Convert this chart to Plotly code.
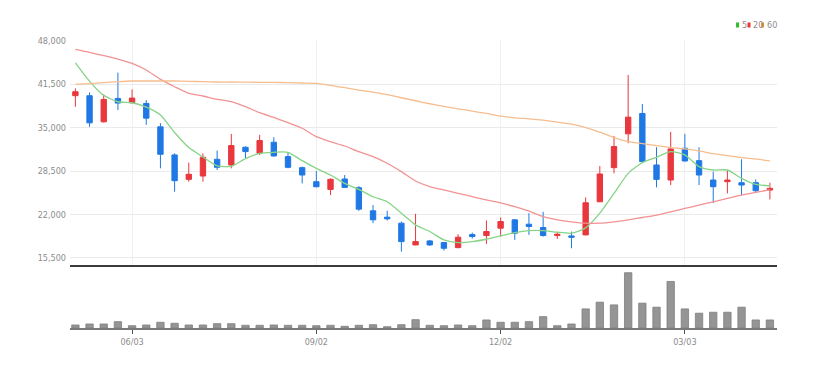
import plotly.graph_objects as go

dates = [
    "2024-05-06", "2024-05-13", "2024-05-20", "2024-05-27", "2024-06-03", "2024-06-10",
    "2024-06-17", "2024-06-24", "2024-07-01", "2024-07-08", "2024-07-15", "2024-07-22",
    "2024-07-29", "2024-08-05", "2024-08-12", "2024-08-19", "2024-08-26", "2024-09-02",
    "2024-09-09", "2024-09-16", "2024-09-23", "2024-09-30", "2024-10-07", "2024-10-14",
    "2024-10-21", "2024-10-28", "2024-11-04", "2024-11-11", "2024-11-18", "2024-11-25",
    "2024-12-02", "2024-12-09", "2024-12-16", "2024-12-23", "2024-12-30", "2025-01-06",
    "2025-01-13", "2025-01-20", "2025-01-27", "2025-02-03", "2025-02-10", "2025-02-17",
    "2025-02-24", "2025-03-03", "2025-03-10", "2025-03-17", "2025-03-24", "2025-03-31",
    "2025-04-07", "2025-04-14",
]

open_ = [39750, 39750, 35850, 39350, 38700, 38600, 35100, 30900, 27250, 27750,
         30250, 29400, 32050, 31150, 32800, 30650, 29000, 26900, 25750, 27300,
         26000, 22550, 21600, 20700, 17450, 18050, 17800, 17050, 19000, 18850,
         19950, 21200, 20550, 20050, 18850, 18800, 18950, 23900, 29000, 34050,
         37100, 29400, 27150, 31900, 30050, 27150, 26900, 26750, 26750, 25650]
high = [40850, 40250, 39950, 43200, 40700, 39100, 35650, 31150, 29750, 31150,
        31550, 34050, 32200, 33900, 33550, 31300, 29150, 28500, 27400, 27900,
        26250, 23400, 22550, 20950, 22100, 18200, 17850, 19050, 19300, 21100,
        21550, 21300, 22200, 22400, 19350, 19450, 24550, 29250, 33750, 42850,
        38500, 32050, 34350, 34050, 32050, 28400, 28550, 30250, 27250, 26750]
low = [38100, 35100, 35750, 37600, 38600, 35400, 28900, 25400, 26900, 26900,
       28650, 28900, 30400, 30900, 30650, 28900, 26650, 26050, 24900, 26050,
       22550, 20700, 21100, 16450, 17400, 17300, 16600, 16950, 18400, 17600,
       18700, 18200, 18950, 18700, 18350, 16950, 18900, 23850, 28150, 32650,
       29750, 26050, 26400, 29900, 26400, 23700, 25150, 24900, 25250, 24250]
close = [40350, 35700, 39200, 38650, 39400, 36400, 31000, 27050, 28000, 30550,
         29050, 32300, 31400, 33050, 30750, 29050, 27900, 26150, 27250, 26050,
         22800, 21200, 21350, 17950, 17950, 17450, 16950, 18600, 18700, 19450,
         20950, 19200, 20200, 18850, 19050, 18600, 23750, 28050, 32150, 36550,
         29900, 27250, 31800, 30000, 27900, 26150, 27150, 26400, 25550, 25900]

ma5 = [44650, 41900, 39800, 38850, 38700, 38050, 36870, 34250, 32000, 30600,
       29280, 29200, 30350, 31150, 31300, 31300, 30050, 28900, 27900, 26650,
       25750, 24650, 23900, 22200, 20450, 19450, 18200, 17800, 17950, 18300,
       18800, 19300, 19600, 19600, 19350, 19200, 20000, 22200, 25150, 28150,
       29750, 30550, 31400, 30900, 29150, 28650, 28650, 27400, 26500, 26280]
ma20 = [46685, 46237, 45729, 45236, 44594, 43593, 42203, 41098, 40112, 39708,
        39215, 38857, 38110, 37213, 36500, 35719, 34883, 33628, 32880, 32238,
        31387, 30640, 29654, 28399, 27000, 26157, 25664, 25171, 24664, 24171,
        23750, 23170, 22500, 21675, 21200, 20900, 20700, 20700, 20900, 21200,
        21550, 21900, 22400, 22900, 23400, 23900, 24400, 24900, 25300, 25700]
ma60 = [41456, 41550, 41700, 41850, 41950, 41950, 41950, 41950, 41900, 41850,
        41800, 41800, 41780, 41760, 41750, 41700, 41650, 41600, 41300, 40950,
        40600, 40300, 39900, 39450, 39000, 38550, 38150, 37800, 37450, 37100,
        36700, 36450, 36300, 36100, 35800, 35500, 35000, 34300, 33500, 32900,
        32600, 32300, 32000, 31800, 31500, 31100, 30800, 30500, 30300, 30000]

volume = [60, 80, 80, 126, 46, 60, 114, 94, 60, 60, 86, 86, 54, 54, 60, 54, 54, 46,
          54, 34, 54, 66, 26, 66, 166, 54, 46, 60, 46, 160, 114, 114, 126, 226, 46,
          80, 380, 514, 460, 1100, 494, 414, 926, 380, 294, 314, 314, 414, 160, 160]

tick_dates = ["2024-06-03", "2024-09-02", "2024-12-02", "2025-03-03"]
tick_labels = ["06/03", "09/02", "12/02", "03/03"]
price_ticks = [15500, 22000, 28500, 35000, 41500, 48000]

legend_names = ["5", "20", "60"]

RED = "#e8373d"
BLUE = "#1f78e4"
MA_COLORS = ["#86d486", "#f29393", "#f6bd8f"]
LEG_COLORS = ["#2fbf2f", "#ee3535", "#f7902c"]
FONT = "DejaVu Sans Condensed, Liberation Sans Narrow, Arial Narrow, sans-serif"

fig = go.Figure()
fig.add_trace(go.Candlestick(
    x=dates, open=open_, high=high, low=low, close=close,
    increasing=dict(line=dict(color=RED, width=1), fillcolor=RED),
    decreasing=dict(line=dict(color=BLUE, width=1), fillcolor=BLUE),
    whiskerwidth=0, xaxis="x", yaxis="y", showlegend=False, name="",
))
for vals, col, nm in zip([ma5, ma20, ma60], MA_COLORS, legend_names):
    fig.add_trace(go.Scatter(
        x=dates, y=vals, mode="lines", line=dict(color=col, width=1.3, shape="spline", smoothing=0.6),
        xaxis="x", yaxis="y", showlegend=False, name=nm, hoverinfo="skip",
    ))
fig.add_trace(go.Bar(
    x=dates, y=volume, marker=dict(color="#959595", line=dict(color="#7f7f7f", width=0.8)),
    width=0.52, xaxis="x2", yaxis="y2", showlegend=False, name="vol",
))

# page body has an 8px margin, so the figure is drawn 8px right / down
W, H = 815, 360
L, R, T, B = 62, 46, 32, 40
OFF = 8
PL = L + OFF                 # plot left in window pixels
PT = T + OFF                 # plot top in window pixels
pw, ph = W - L - R, H - T - B
PB = PT + ph                 # plot bottom in window pixels

def px_x(p):
    return (p - PL) / pw

def px_y(p):
    return (PB - p) / ph

xr = [-0.38, 49.5]
fig.update_layout(
    width=W, height=H,
    margin=dict(l=L, r=R, t=T, b=B, autoexpand=False),
    paper_bgcolor="white", plot_bgcolor="white",
    font=dict(family=FONT, size=9, color="#8c8c8c"),
    boxgap=0.46,
    bargap=0.4,
    hovermode=False,
    xaxis=dict(
        type="category", range=xr, anchor="y", domain=[0, 1],
        rangeslider=dict(visible=False),
        tickvals=tick_dates, ticktext=tick_labels, showticklabels=False,
        showgrid=True, gridcolor="#f0f0f0", gridwidth=1,
        showline=True, linecolor="#3a3a3a", linewidth=2, zeroline=False,
        ticks="",
    ),
    yaxis=dict(
        domain=[px_y(265), 1], range=[14450, 48080], anchor="x",
        tickvals=price_ticks, tickformat=",", showgrid=True, gridcolor="#ebebeb",
        gridwidth=1, zeroline=False, showline=False, ticks="", ticklabelstandoff=3,
        tickfont=dict(family=FONT, size=9, color="#8c8c8c"),
    ),
    xaxis2=dict(
        type="category", range=xr, anchor="y2", domain=[0, 1],
        tickvals=tick_dates, ticktext=tick_labels,
        showgrid=False, showline=True, linecolor="#7a7a7a", linewidth=2,
        ticks="outside", ticklen=4, tickcolor="#555", tickwidth=1,
        tickfont=dict(family=FONT, size=9, color="#8c8c8c"),
        zeroline=False,
    ),
    yaxis2=dict(
        domain=[0, px_y(270)], range=[0, 1154], anchor="x2",
        showticklabels=False, showgrid=False, zeroline=False, showline=False, ticks="",
    ),
)

# legend (5 / 20 / 60) drawn as small coloured marks with grey labels
leg_rect_x = [736, 747.5, 761]
leg_text_x = [739.8, 751, 764.5]
shapes = []
annotations = []
for rx, tx, col, nm in zip(leg_rect_x, leg_text_x, LEG_COLORS, legend_names):
    shapes.append(dict(type="rect", xref="paper", yref="paper",
                       x0=px_x(rx), x1=px_x(rx + 3), y0=px_y(27.5), y1=px_y(22.5),
                       fillcolor=col, line=dict(width=0)))
    annotations.append(dict(xref="paper", yref="paper", x=px_x(tx), y=px_y(25),
                            xanchor="left", yanchor="middle", text=nm, showarrow=False,
                            font=dict(family=FONT, size=9, color="#8c8c8c")))
fig.update_layout(shapes=shapes, annotations=annotations)

fig.write_html("out.html")
